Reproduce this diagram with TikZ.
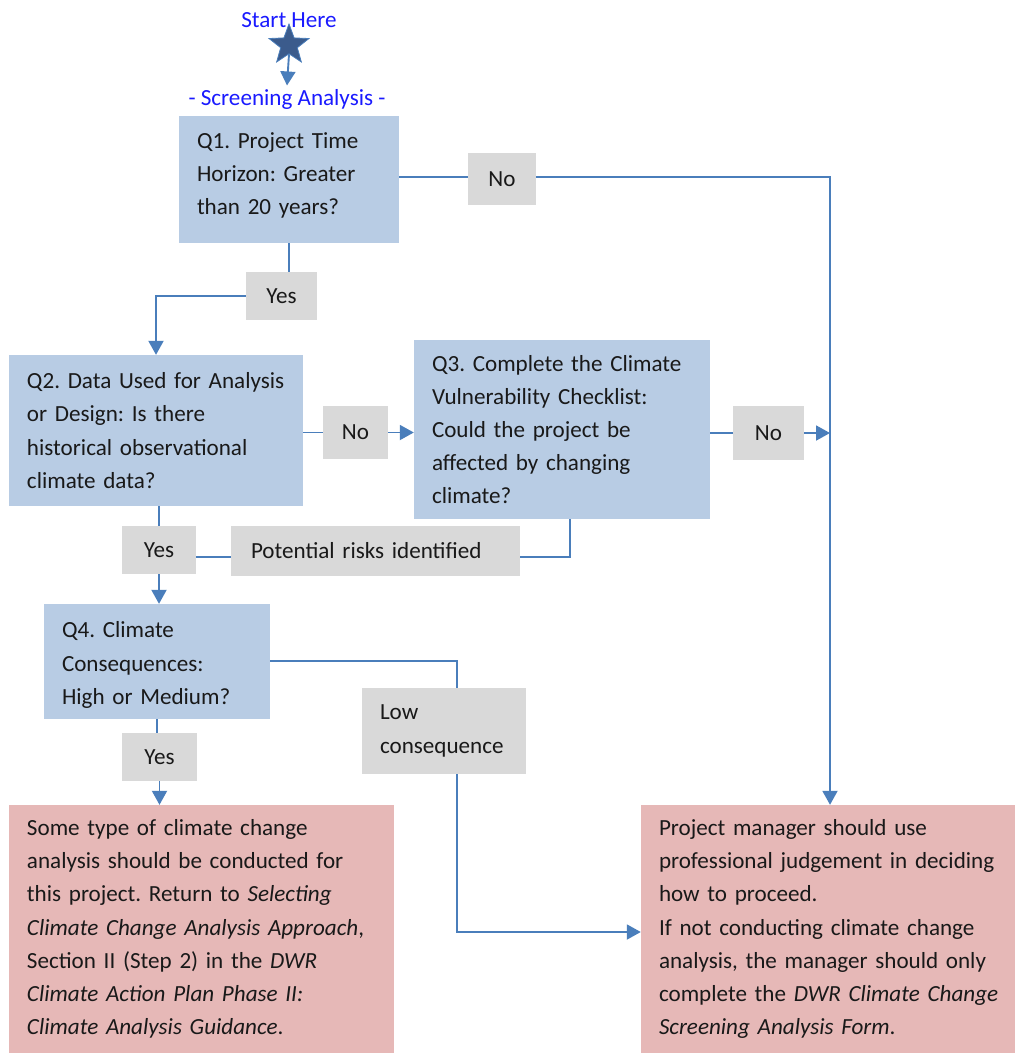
\documentclass[tikz,border=0pt]{standalone}
\usepackage{fontspec}
\setmainfont{Carlito}
\usetikzlibrary{shapes.geometric,arrows.meta,calc}
\definecolor{qblue}{HTML}{B8CCE4}
\definecolor{lgrey}{HTML}{D9D9D9}
\definecolor{rpink}{HTML}{E6B8B7}
\definecolor{lblue}{HTML}{4A7EBB}
\definecolor{starfill}{HTML}{3B5B8C}
\definecolor{txtblue}{HTML}{1A1AFF}
\newcommand\myln[1]{\mbox{#1}}
\begin{document}
\begin{tikzpicture}[x=1pt,y=-1pt,
  every node/.style={font=\fontsize{23.1}{33.2}\selectfont\frenchspacing, text=black!90},
  qbox/.style={rectangle, fill=qblue, inner xsep=18pt, inner ysep=0pt, align=left},
  rbox/.style={rectangle, fill=rpink, inner xsep=18pt, inner ysep=0pt, align=left},
  lab/.style={rectangle, fill=lgrey, inner sep=0pt, align=center},
  conn/.style={draw=lblue, line width=1.9pt},
  arr/.style={conn, -{Triangle[length=14pt,width=15pt]}}
]
\useasboundingbox (0,0) rectangle (1015,1053);

% title and star
\node[text=txtblue] (start) at (289,20) {Start Here};
\node[star, star points=5, star point ratio=2.4, fill=starfill, draw=lblue, line width=0.8pt, minimum size=42pt, inner sep=0pt] (star) at (289,45) {};
\node[text=txtblue] (scr) at (287,99) {- Screening Analysis -};

% question boxes
\node[qbox, minimum width=220pt, minimum height=127pt, text width=184pt] (q1) at (289,179.5) {\myln{Q1. Project Time}\\\myln{Horizon: Greater}\\\myln{than 20 years?\rule[-12pt]{0pt}{1pt}}};
\node[qbox, minimum width=294pt, minimum height=151pt, text width=258pt] (q2) at (156,430.5) {\myln{Q2. Data Used for Analysis}\\\myln{or Design: Is there}\\\myln{historical observational}\\\myln{climate data?}};
\node[qbox, minimum width=296pt, minimum height=179pt, text width=260pt] (q3) at (562,429.5) {\myln{Q3. Complete the Climate}\\\myln{Vulnerability Checklist:}\\\myln{Could the project be}\\\myln{affected by changing}\\\myln{climate?}};
\node[qbox, minimum width=226pt, minimum height=115pt, text width=190pt] (q4) at (157,661.5) {\myln{\rule{0pt}{23pt}Q4. Climate}\\\myln{Consequences:}\\\myln{High or Medium?}};

% labels
\node[lab, minimum width=68pt, minimum height=52pt] (no1) at (502,179) {No};
\node[lab, minimum width=71pt, minimum height=48pt] (yes1) at (281.5,296) {Yes};
\node[lab, minimum width=65pt, minimum height=53pt] (no2) at (355.5,432.5) {No};
\node[lab, minimum width=71pt, minimum height=54pt] (no3) at (768.5,433) {No};
\node[lab, minimum width=74pt, minimum height=48pt] (yes2) at (159,550) {Yes};
\node[lab, minimum width=289pt, minimum height=50pt, text width=253pt, align=left, inner xsep=18pt] (risk) at (375.5,551) {\myln{\hspace{2pt}Potential risks identified}};
\node[lab, minimum width=75pt, minimum height=48pt] (yes3) at (159.5,757) {Yes};
\node[lab, minimum width=164pt, minimum height=86pt, text width=128pt, align=left, inner xsep=18pt] (low) at (444,731) {\myln{Low}\\\myln{consequence}};

% result boxes
\node[rbox, minimum width=385pt, minimum height=248pt, text width=349pt] (rl) at (201.5,929) {\myln{Some type of climate change}\\\myln{analysis should be conducted for}\\\myln{this project. Return to \textit{Selecting}}\\\myln{\textit{Climate Change Analysis Approach},}\\\myln{Section II (Step 2) in the \textit{DWR}}\\\myln{\textit{Climate Action Plan Phase II:}}\\\myln{\textit{Climate Analysis Guidance}.}};
\node[rbox, minimum width=374pt, minimum height=248pt, text width=338pt] (rr) at (828,929) {\myln{Project manager should use}\\\myln{professional judgement in deciding}\\\myln{how to proceed.}\\\myln{If not conducting climate change}\\\myln{analysis, the manager should only}\\\myln{complete the \textit{DWR Climate Change}}\\\myln{\textit{Screening Analysis Form}.}};

% helper coordinates
\coordinate (vx) at (830,0);
\coordinate (lowbend) at (457,661);

% connectors
\draw[arr] (star.south) -- (scr.north);
\draw[conn] ([yshift=2pt]q1.east |- no1.west) -- ([yshift=2pt]no1.west);
\draw[arr] ([yshift=2pt]no1.east) -- ([yshift=2pt]no1.east -| vx) -- (vx |- rr.north);
\draw[conn] (q1.south) -- (q1.south |- yes1.north);
\draw[arr] (yes1.west) -| (q2.north);
\draw[conn] (q2.east |- no2.west) -- (no2.west);
\draw[arr] (no2.east) -- (q3.west |- no2.east);
\draw[conn] (q3.east |- no3.west) -- (no3.west);
\draw[arr] (no3.east) -- (no3.east -| vx);
\draw[conn] ([xshift=8pt]q3.south) |- ([yshift=-6pt]risk.east);
\draw[conn] ([yshift=-6pt]risk.west) -- ([yshift=-6pt]yes2.east |- risk.west);
\draw[conn] (yes2.north |- q2.south) -- (yes2.north);
\draw[arr] (yes2.south) -- (yes2.south |- q4.north);
\draw[conn] (q4.east |- lowbend) -- (lowbend) -- (lowbend |- low.north);
\draw[arr] (lowbend |- low.south) |- ([yshift=-3pt]rr.west);
\draw[conn] (q4.south) -- (q4.south |- yes3.north);
\draw[arr] (yes3.south) -- (yes3.south |- rl.north);
\end{tikzpicture}
\end{document}
